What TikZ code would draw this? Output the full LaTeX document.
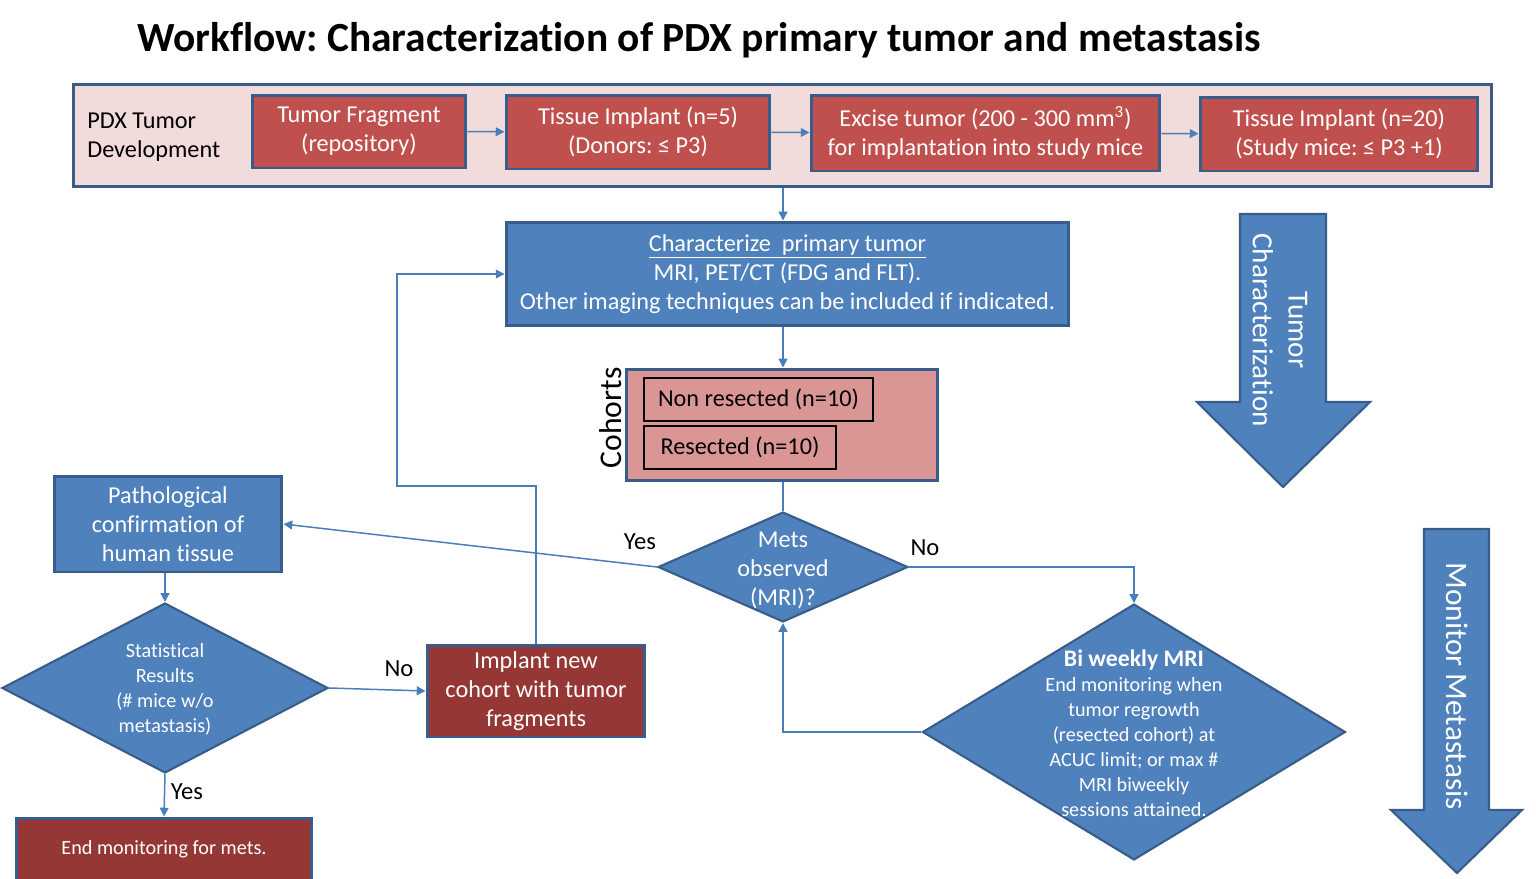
\documentclass[tikz,border=0pt]{standalone}
\usepackage{fontspec}
\setmainfont{Carlito}[Ligatures=NoCommon]
\usepackage{xcolor}
\usepackage{tikz}
\usetikzlibrary{arrows.meta,shapes.geometric,calc}
\frenchspacing

\definecolor{boxblue}{HTML}{4F81BD}
\definecolor{edgeblue}{HTML}{385D8A}
\definecolor{boxred}{HTML}{C0504D}
\definecolor{darkred}{HTML}{953735}
\definecolor{cohortpink}{HTML}{D99694}
\definecolor{palepink}{HTML}{F2DCDB}
\definecolor{linkblue}{HTML}{4A7EBB}

\newcommand{\mainsize}{\fontsize{13.8}{16.5}\selectfont}
\newcommand{\smallsize}{\fontsize{11.5}{14.2}\selectfont}

\tikzset{
  basebox/.style={line width=1.7pt, draw=edgeblue, align=center, inner sep=0pt, font=\mainsize},
  redbox/.style={basebox, fill=boxred, text=white},
  bluebox/.style={basebox, fill=boxblue, text=white},
  darkbox/.style={basebox, fill=darkred, text=white},
  cohortbox/.style={line width=1.1pt, draw=black, fill=cohortpink, inner sep=0pt, font=\mainsize},
  decision/.style={diamond, draw=edgeblue, line width=1.2pt, fill=boxblue, inner sep=0pt},
  conn/.style={draw=linkblue, line width=0.85pt, -{Triangle[length=5pt,width=5pt]}},
  plainconn/.style={draw=linkblue, line width=0.85pt},
  answer/.style={font=\fontsize{14}{17}\selectfont},
  bigarrow/.style={draw=edgeblue, line width=1.2pt, fill=boxblue},
}

\begin{document}
\begin{tikzpicture}[x=0.02cm,y=-0.02cm]
\useasboundingbox (0,0) rectangle (1536,879);

\node[font=\fontsize{23.6}{28}\selectfont\bfseries] (title) at (699,40) {Workflow: Characterization of PDX primary tumor and metastasis};

% tumor development row
\node[basebox, fill=palepink, minimum width=28.38cm, minimum height=2.06cm] (pdx) at (782.5,135.5) {};
\node[anchor=west, align=left, font=\mainsize, inner sep=0pt] (pdxlabel) at (87,137) {PDX Tumor\\Development};
\node[redbox, minimum width=4.28cm, minimum height=1.46cm] (frag) at (359,131.5) {Tumor Fragment\\(repository)};
\node[redbox, minimum width=5.28cm, minimum height=1.48cm] (donor) at (638,132) {Tissue Implant (n=5)\\(Donors: ≤ P3)};
\node[redbox, minimum width=6.98cm, minimum height=1.52cm] (excise) at (985.5,133) {Excise tumor (200 - 300 mm\textsuperscript{3})\\for implantation into study mice};
\node[redbox, minimum width=5.56cm, minimum height=1.48cm] (study) at (1339,134) {Tissue Implant (n=20)\\(Study mice: ≤ P3 +1)};
\draw[conn] (frag) -- (donor);
\draw[conn] (donor) -- (excise);
\draw[conn] (excise) -- (study);

% primary tumor
\node[bluebox, minimum width=11.26cm, minimum height=2.08cm] (charz) at (787.5,274) {\underline{Characterize\ \ primary tumor}\\MRI, PET/CT (FDG and FLT).\\Other imaging techniques can be included if indicated.};

\node[basebox, fill=cohortpink, minimum width=6.24cm, minimum height=2.24cm] (cohort) at (782,425) {};
\node[cohortbox, minimum width=4.58cm, minimum height=0.86cm] (nonres) at (758.5,399.5) {Non resected (n=10)};
\node[cohortbox, minimum width=3.84cm, minimum height=0.86cm] (resec) at (740,447.5) {Resected (n=10)};
\node[rotate=90, font=\fontsize{18}{21}\selectfont, inner sep=0pt] (cohortlabel) at (611,418) {Cohorts};

\node[decision, minimum width=5cm, minimum height=2.2cm] (mets) at (783,567) {};
\node[align=center, text=white, font=\mainsize] at (783,570) {Mets\\observed\\(MRI)?};

\node[decision, minimum width=8.46cm, minimum height=5.12cm] (bwk) at (1134,732) {};
\node[align=center, text=white, font=\smallsize] at (1134,733) {{\fontsize{13.5}{16}\selectfont\bfseries Bi weekly MRI}\\End monitoring when\\tumor regrowth\\(resected cohort) at\\ACUC limit; or max \#\\MRI biweekly\\sessions attained.};

\draw[conn] (pdx.south -| mets.north) -- (charz.north -| mets.north);
\draw[conn] (charz.south -| mets.north) -- (cohort.north -| mets.north);
\draw[plainconn] (cohort.south -| mets.north) -- (mets.north);
\draw[conn] (mets.east) -| (bwk.north);
\draw[conn] (bwk.west) -| (mets.south);
\node[answer] (metsno) at (925,548) {No};

% pathology side
\node[bluebox, minimum width=4.56cm, minimum height=1.92cm] (patho) at (168,524) {Pathological\\confirmation of\\human tissue};
\draw[conn] (mets.west) -- (patho.east);
\node[answer] (metsyes) at (640,542) {Yes};

\node[decision, minimum width=6.52cm, minimum height=3.4cm] (stat) at (165,688) {};
\node[align=center, text=white, font=\smallsize] at (165,689) {Statistical\\Results\\(\# mice w/o\\metastasis)};
\draw[conn] (patho.south -| stat.north) -- (stat.north);

\node[darkbox, minimum width=4.36cm, minimum height=1.84cm] (implant) at (536,691) {Implant new\\cohort with tumor\\fragments};
\draw[conn] (stat.east) -- (implant.west);
\node[answer] (statno) at (399,669) {No};

\coordinate (loop) at (397,486);
\draw[conn] (implant.north) |- (loop) |- (charz.west);

\node[darkbox, font=\smallsize, minimum width=5.92cm, minimum height=1.24cm] (endm) at (164,849) {End monitoring for mets.};
\draw[conn] (stat.south) -- (endm.north);
\node[answer] (statyes) at (187,792) {Yes};

% phase arrows
\draw[bigarrow] (1240,214) -- (1326,214) -- (1326,402) -- (1370,402) -- (1283,487) -- (1197,402) -- (1240,402) -- cycle;
\node[rotate=-90, align=center, text=white, font=\fontsize{16.6}{20.4}\selectfont] (tumorchar) at (1280,330) {Tumor\\Characterization};
\draw[bigarrow] (1424,529) -- (1489,529) -- (1489,810) -- (1522,810) -- (1457,873) -- (1391,810) -- (1424,810) -- cycle;
\node[rotate=-90, text=white, font=\fontsize{17.8}{21}\selectfont] (monitor) at (1457,686) {Monitor Metastasis};
\end{tikzpicture}
\end{document}
